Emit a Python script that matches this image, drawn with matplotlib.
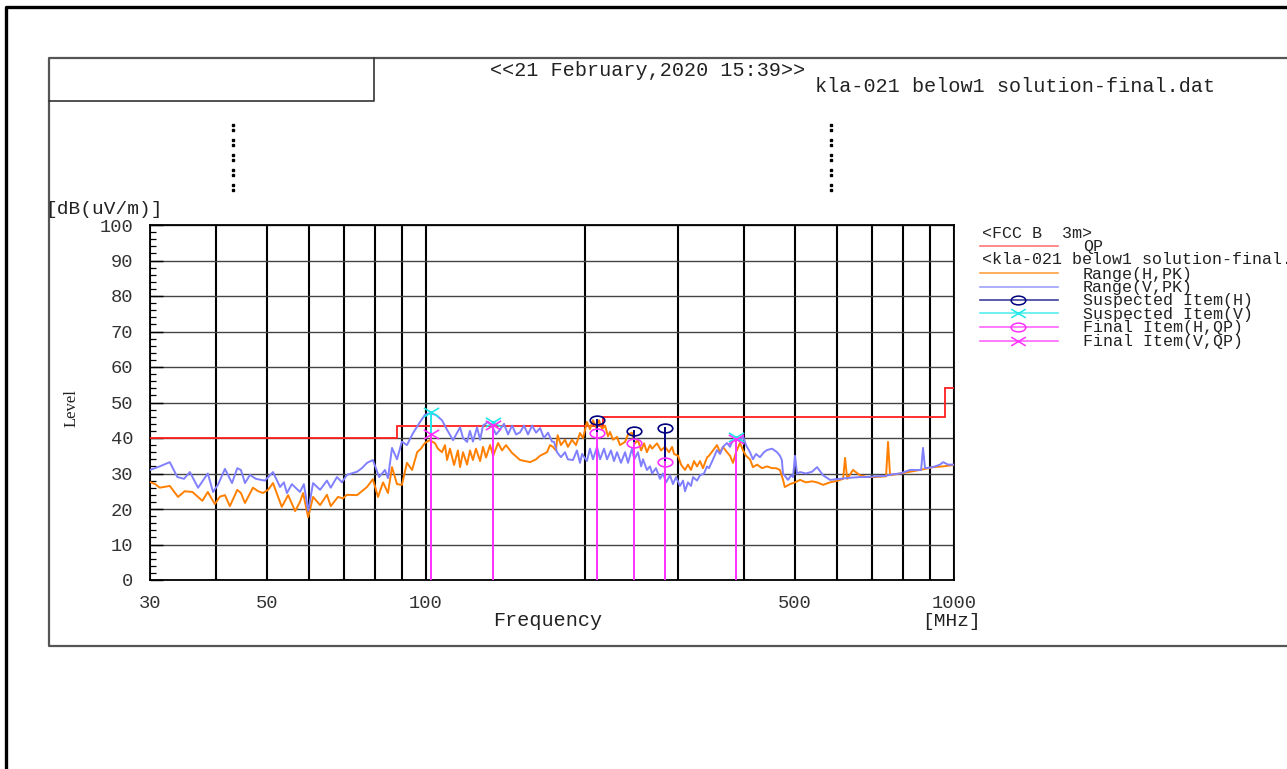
import matplotlib
matplotlib.use("Agg")
import matplotlib.pyplot as plt
from matplotlib.lines import Line2D
from matplotlib.path import Path
from matplotlib.transforms import Affine2D
from matplotlib.ticker import FixedLocator, NullFormatter

# ---------------- data ----------------
# Range(H,PK) trace
h_freq = [30.0, 30.7, 31.3, 32.7, 33.9, 34.9, 36.1, 37.7, 38.6, 39.8, 40.7, 41.6, 42.5, 43.9,
          44.6, 45.4, 47.0, 48.1, 49.1, 50.2, 51.3, 53.3, 54.8, 56.5, 57.7, 58.5, 59.8, 61.1,
          63.0, 64.9, 66.0, 68.1, 69.6, 70.8, 74.0, 77.3, 79.3, 81.1, 82.9, 84.7, 86.2, 88.1,
          90.0, 92.0, 94.1, 96.2, 97.8, 99.5, 101.7, 104.0, 105.3, 107.2, 108.6, 109.6, 111.0,
          113.0, 114.9, 116.0, 117.5, 119.6, 121.1, 122.7, 124.3, 126.6, 128.2, 129.9, 132.2,
          134.0, 136.9, 139.3, 141.7, 145.5, 150.7, 157.4, 161.6, 164.4, 169.5, 171.7, 173.9,
          176.2, 177.5, 180.1, 183.3, 185.7, 189.0, 192.3, 195.7, 198.3, 201.7, 204.4, 207.1,
          209.9, 212.6, 215.4, 218.3, 221.1, 223.1, 226.0, 230.0, 233.0, 238.2, 241.3, 245.5,
          248.8, 252.0, 255.5, 258.8, 262.0, 265.6, 268.0, 273.8, 278.6, 283.5, 288.5, 292.4,
          295.0, 300.1, 304.1, 309.4, 313.4, 317.6, 321.8, 326.0, 330.3, 334.6, 340.5, 343.5,
          349.6, 355.7, 360.5, 365.1, 371.5, 376.5, 381.4, 386.5, 393.2, 398.3, 403.6, 410.7,
          416.1, 423.6, 432.9, 442.3, 452.2, 460.2, 468.1, 474.5, 478.0, 489.2, 499.8, 510.9,
          524.4, 538.4, 550.4, 564.9, 582.4, 603.1, 616.6, 621.8, 627.5, 643.8, 663.7, 684.3,
          708.7, 743.5, 750.0, 756.6, 790.3, 825.5, 862.6, 912.6, 953.8, 1000.0]
h_level = [27.6, 27.0, 26.0, 26.5, 23.4, 25.0, 24.8, 22.3, 24.8, 21.4, 23.5, 23.9, 20.8, 25.4,
           24.5, 21.7, 26.0, 25.0, 24.5, 25.4, 27.3, 20.6, 23.9, 19.4, 22.0, 24.5, 17.7, 23.4,
           21.1, 24.0, 20.8, 23.4, 23.0, 24.0, 23.9, 26.2, 28.4, 23.4, 27.5, 24.5, 31.8, 27.0,
           26.8, 33.0, 31.0, 36.0, 37.0, 38.6, 39.4, 38.5, 37.0, 36.0, 38.0, 33.8, 37.0,
           32.4, 36.5, 31.8, 36.0, 32.5, 36.5, 33.8, 37.0, 33.5, 37.5, 34.5, 38.0,
           35.0, 38.6, 36.5, 38.0, 35.8, 33.8, 33.2, 34.0, 35.0, 36.0, 38.0, 37.5,
           36.5, 40.8, 38.0, 39.5, 37.5, 39.5, 38.0, 41.4, 40.0, 44.5, 42.5, 45.0,
           43.0, 45.0, 42.5, 43.5, 40.5, 41.7, 39.5, 40.3, 38.0, 38.9, 41.0, 41.5,
           38.5, 39.4, 36.5, 38.5, 36.0, 38.0, 37.0, 38.5, 36.5, 37.5, 36.0, 37.5,
           35.5, 35.0, 32.5, 31.0, 32.5, 31.0, 33.5, 32.0, 33.5, 31.5, 34.5, 35.0,
           36.5, 38.0, 36.0, 37.5, 36.0, 35.0, 33.0, 36.0, 38.6, 36.6, 35.0, 34.0,
           31.8, 32.5, 31.5, 32.0, 31.5, 31.5, 31.0, 28.2, 26.2, 27.0, 27.5, 28.2,
           27.5, 27.8, 27.5, 26.8, 27.5, 28.0, 28.5, 34.4, 28.5, 31.0, 29.5, 29.0,
           29.0, 29.2, 38.9, 29.5, 30.0, 30.5, 31.0, 31.8, 32.0, 32.4]

# Range(V,PK) trace
v_freq = [30.0, 31.3, 32.7, 33.8, 34.8, 35.7, 37.0, 38.6, 39.5, 40.4, 41.6, 42.9, 43.9, 44.6,
          45.4, 46.4, 47.6, 49.5, 51.3, 52.9, 53.8, 54.5, 55.7, 57.7, 58.7, 59.8, 61.1, 63.0,
          64.9, 66.0, 67.8, 69.3, 70.8, 74.0, 75.6, 77.3, 79.3, 81.5, 83.6, 84.7, 86.2, 88.1,
          90.0, 92.0, 94.5, 97.4, 99.5, 101.7, 104.4, 107.2, 109.6, 112.5, 116.0, 117.5, 119.6,
          121.1, 122.7, 124.9, 126.6, 128.2, 131.0, 133.3, 135.7, 137.5, 140.5, 143.0, 145.5,
          148.1, 150.7, 153.3, 156.0, 158.8, 161.6, 164.4, 167.3, 170.2, 173.2, 174.8, 177.0,
          180.1, 183.3, 185.6, 189.8, 193.1, 195.7, 197.5, 201.7, 204.4, 207.1, 210.8, 213.6,
          217.3, 220.2, 224.0, 227.0, 230.0, 234.0, 238.2, 241.3, 245.5, 248.0, 252.0, 255.5,
          257.6, 262.0, 265.6, 268.0, 272.6, 277.4, 281.1, 284.8, 289.8, 293.6, 297.5, 302.7,
          306.7, 309.4, 313.4, 317.6, 320.4, 326.0, 330.3, 336.1, 340.5, 343.5, 349.6, 355.7,
          360.5, 365.1, 371.5, 376.5, 381.4, 388.1, 393.2, 398.3, 403.6, 410.7, 416.1, 421.7,
          429.0, 436.6, 442.3, 452.2, 462.2, 468.1, 472.0, 474.3, 484.8, 491.3, 495.6, 499.8,
          504.3, 510.9, 524.4, 538.4, 550.4, 564.9, 582.4, 608.4, 635.4, 663.7, 684.3, 708.7,
          740.4, 750.0, 766.6, 790.3, 825.5, 855.0, 866.3, 873.6, 881.3, 912.6, 940.7, 953.8,
          974.3, 1000.0]
v_level = [31.0, 32.0, 33.2, 29.0, 28.5, 30.4, 26.0, 30.0, 24.8, 27.0, 31.3, 27.3, 31.5, 31.0,
           27.3, 29.6, 28.5, 28.0, 30.4, 26.2, 27.5, 24.5, 27.0, 24.8, 27.0, 19.5, 27.3, 25.4,
           28.0, 26.0, 29.0, 27.5, 29.6, 30.5, 31.5, 33.0, 33.8, 29.0, 31.0, 28.7, 37.2, 34.0,
           39.0, 38.0, 41.4, 44.5, 46.5, 47.0, 46.5, 45.0, 42.3, 39.4, 43.0, 40.0, 38.9,
           42.0, 39.0, 43.0, 39.5, 43.5, 44.5, 43.5, 41.0, 42.0, 44.0, 41.0, 43.5,
           41.0, 41.6, 43.5, 41.0, 43.5, 41.5, 42.8, 40.0, 41.5, 39.0, 38.9, 36.0,
           34.6, 36.0, 34.0, 33.8, 36.5, 33.0, 35.5, 33.5, 37.0, 34.0, 37.5, 34.0,
           37.0, 34.0, 36.5, 33.5, 36.0, 33.0, 36.0, 33.0, 37.0, 34.0, 36.0, 32.0,
           34.0, 31.0, 32.0, 30.0, 31.5, 28.5, 30.0, 27.5, 29.5, 27.0, 29.0, 26.5,
           28.0, 25.0, 27.5, 26.5, 29.0, 28.0, 29.5, 30.0, 32.0, 31.5, 34.0, 36.6,
           35.5, 37.5, 38.6, 37.5, 39.5, 40.0, 39.0, 40.5, 38.0, 36.0, 34.0, 35.5,
           34.6, 36.0, 36.6, 37.0, 36.0, 35.0, 33.8, 30.0, 28.2, 29.5, 29.0, 35.0,
           30.0, 30.4, 30.0, 30.5, 31.8, 29.5, 28.2, 28.5, 28.8, 29.0, 29.0, 29.2,
           29.3, 29.5, 29.8, 30.0, 31.0, 31.0, 31.0, 37.2, 31.5, 31.8, 32.5, 33.2,
           32.5, 32.5]

# FCC B 3m QP limit
limit_edges = [30, 88, 216, 960, 1000]
limit_level = [40.0, 43.5, 46.0, 54.0]

# Suspected / final items
susp_h_freq = [210.8, 247.7, 283.5]
susp_h_level = [45.1, 42.1, 42.7]
final_h_level = [41.5, 38.5, 33.2]
susp_v_freq = [102.0, 133.8, 386.5]
susp_v_level = [47.3, 44.4, 40.2]
final_v_level = [41.1, 43.7, 39.6]

x_tick_values = [30, 50, 100, 500, 1000]
x_tick_labels = ["30", "50", "100", "500", "1000"]
x_grid_values = [40, 60, 70, 80, 90, 200, 300, 400, 600, 700, 800, 900]
y_tick_values = list(range(0, 101, 10))

legend_rows = ["Range(H,PK)", "Range(V,PK)", "Suspected Item(H)", "Suspected Item(V)",
               "Final Item(H,QP)", "Final Item(V,QP)"]

# ---------------- styles ----------------
MONO = "Liberation Mono"
TXT = "#222222"
C_H = "#ff8000"
C_V = "#8080ff"
C_SH = "#000080"
C_SV = "#20e8e8"
C_F = "#ff30ff"
C_LIM = "#ff2020"

W, H = 1287, 769
def fx(x):
    return x / W
def fy(y):
    return 1 - y / H

ellipse = Path.unit_circle().transformed(Affine2D().scale(1.0, 0.6))
xmark = Path([(-1, -0.6), (1, 0.6), (-1, 0.6), (1, -0.6)],
             [Path.MOVETO, Path.LINETO, Path.MOVETO, Path.LINETO])

fig = plt.figure(figsize=(W / 100, H / 100), dpi=100)
fig.patch.set_facecolor("white")

def fline(xs, ys, **kw):
    fig.add_artist(Line2D([fx(v) for v in xs], [fy(v) for v in ys],
                          transform=fig.transFigure, **kw))

# frames
fline([5.5, 5.5, W], [H, 6.5, 6.5], color="black", lw=2.4, solid_capstyle="projecting")
fline([W, 48.5, 48.5, W], [57.5, 57.5, 645.5, 645.5], color="#555555", lw=1.6)
fline([48.5, 373.5, 373.5], [100.5, 100.5, 57.5], color="#333333", lw=1.2)

# colon marks
for cx in (233, 831):
    ys = []
    for k in range(5):
        ys += [125 + 15 * k, 130 + 15 * k]
    fig.add_artist(Line2D([fx(cx)] * len(ys), [fy(v) for v in ys], transform=fig.transFigure,
                          ls="none", marker="s", markersize=1.5, color="black"))

# header texts
fig.text(fx(490), fy(71), "<<21 February,2020 15:39>>", family=MONO, size=14.5,
         ha="left", va="center", color=TXT)
fig.text(fx(815), fy(86), "kla-021 below1 solution-final.dat", family=MONO, size=14.5,
         ha="left", va="center", color=TXT)

# ---------------- axes ----------------
ax = fig.add_axes([fx(150), fy(580), (954 - 150) / W, (580 - 225) / H])
ax.set_xscale("log")
ax.set_xlim(30, 1000)
ax.set_ylim(0, 100)
ax.set_axisbelow(True)

ax.xaxis.set_major_locator(FixedLocator(x_tick_values))
ax.set_xticklabels(x_tick_labels)
ax.xaxis.set_minor_locator(FixedLocator(x_grid_values))
ax.xaxis.set_minor_formatter(NullFormatter())
ax.yaxis.set_major_locator(FixedLocator(y_tick_values))
ax.yaxis.set_minor_locator(FixedLocator(list(range(0, 101, 2))))

ax.tick_params(axis="x", which="both", length=0, pad=11)
ax.tick_params(axis="y", which="major", direction="in", length=9, width=1.0, pad=12)
ax.tick_params(axis="y", which="minor", direction="in", length=4.5, width=0.9)
for lab in ax.get_xticklabels() + ax.get_yticklabels():
    lab.set_family(MONO)
    lab.set_fontsize(13.5)
    lab.set_color("#333333")

ax.grid(axis="x", which="both", color="black", lw=1.5)
ax.grid(axis="y", which="major", color="#444444", lw=1.0)
for sp in ax.spines.values():
    sp.set_color("black")
    sp.set_linewidth(1.3)

# limit
ax.stairs(limit_level, limit_edges, baseline=None, color=C_LIM, lw=1.3, zorder=3)
# traces
ax.plot(h_freq, h_level, color=C_H, lw=1.4, zorder=4)
ax.plot(v_freq, v_level, color=C_V, lw=1.4, zorder=5)

# item lines and markers
for f, s, q in zip(susp_h_freq, susp_h_level, final_h_level):
    ax.plot([f, f], [q, s], color=C_SH, lw=1.4, zorder=6)
    ax.plot([f, f], [0, q], color=C_F, lw=1.4, zorder=6)
for f, s, q in zip(susp_v_freq, susp_v_level, final_v_level):
    ax.plot([f, f], [q, s], color=C_SV, lw=1.4, zorder=6)
    ax.plot([f, f], [0, q], color=C_F, lw=1.4, zorder=6)
ax.plot(susp_h_freq, susp_h_level, ls="none", marker=ellipse, markersize=10.5,
        markerfacecolor="none", markeredgecolor=C_SH, markeredgewidth=1.2, zorder=7)
ax.plot(susp_h_freq, final_h_level, ls="none", marker=ellipse, markersize=10.5,
        markerfacecolor="none", markeredgecolor=C_F, markeredgewidth=1.2, zorder=7)
ax.plot(susp_v_freq, susp_v_level, ls="none", marker=xmark, markersize=11,
        markerfacecolor="none", markeredgecolor=C_SV, markeredgewidth=1.2, zorder=7)
ax.plot(susp_v_freq, final_v_level, ls="none", marker=xmark, markersize=11,
        markerfacecolor="none", markeredgecolor=C_F, markeredgewidth=1.2, zorder=7)

# axis texts
fig.text(fx(45), fy(210), "[dB(uV/m)]", family=MONO, size=14, ha="left", va="center",
         color=TXT)
fig.text(fx(72), fy(408), "Level", family="Liberation Serif", size=12, rotation=90,
         ha="center", va="center", color=TXT)
fig.text(fx(548), fy(621), "Frequency", family=MONO, size=14.5, ha="center", va="center",
         color=TXT)
fig.text(fx(952), fy(621), "[MHz]", family=MONO, size=14, ha="center", va="center",
         color=TXT)

# ---------------- legend ----------------
LFS = 12
lx0, lx1, lmx, ltx = 980, 1058, 1018, 1083
fig.text(fx(982), fy(233), "<FCC B  3m>", family=MONO, size=LFS, ha="left", va="center",
         color=TXT)
fline([lx0, lx1], [245.5, 245.5], color=C_LIM, lw=1.2, alpha=0.6)
fig.text(fx(ltx), fy(247), "QP", family=MONO, size=LFS, ha="left", va="center", color=TXT)
fig.text(fx(982), fy(260), "<kla-021 below1 solution-final.dat>", family=MONO, size=LFS,
         ha="left", va="center", color=TXT)

row_y = [273.3, 286.7, 300, 313.3, 326.7, 340.7]
row_col = [C_H, C_V, C_SH, C_SV, C_F, C_F]
row_mk = [None, None, ellipse, xmark, ellipse, xmark]
for label, yy, col, mk in zip(legend_rows, row_y, row_col, row_mk):
    fline([lx0, lx1], [yy, yy], color=col, lw=1.2, alpha=0.75)
    if mk is not None:
        fig.add_artist(Line2D([fx(lmx)], [fy(yy)], transform=fig.transFigure, ls="none",
                              marker=mk, markersize=10.5, markerfacecolor="none",
                              markeredgecolor=col, markeredgewidth=1.1))
    fig.text(fx(ltx), fy(yy + 1), label, family=MONO, size=LFS, ha="left", va="center",
             color=TXT)

fig.savefig("out.png", dpi=100, facecolor="white")
